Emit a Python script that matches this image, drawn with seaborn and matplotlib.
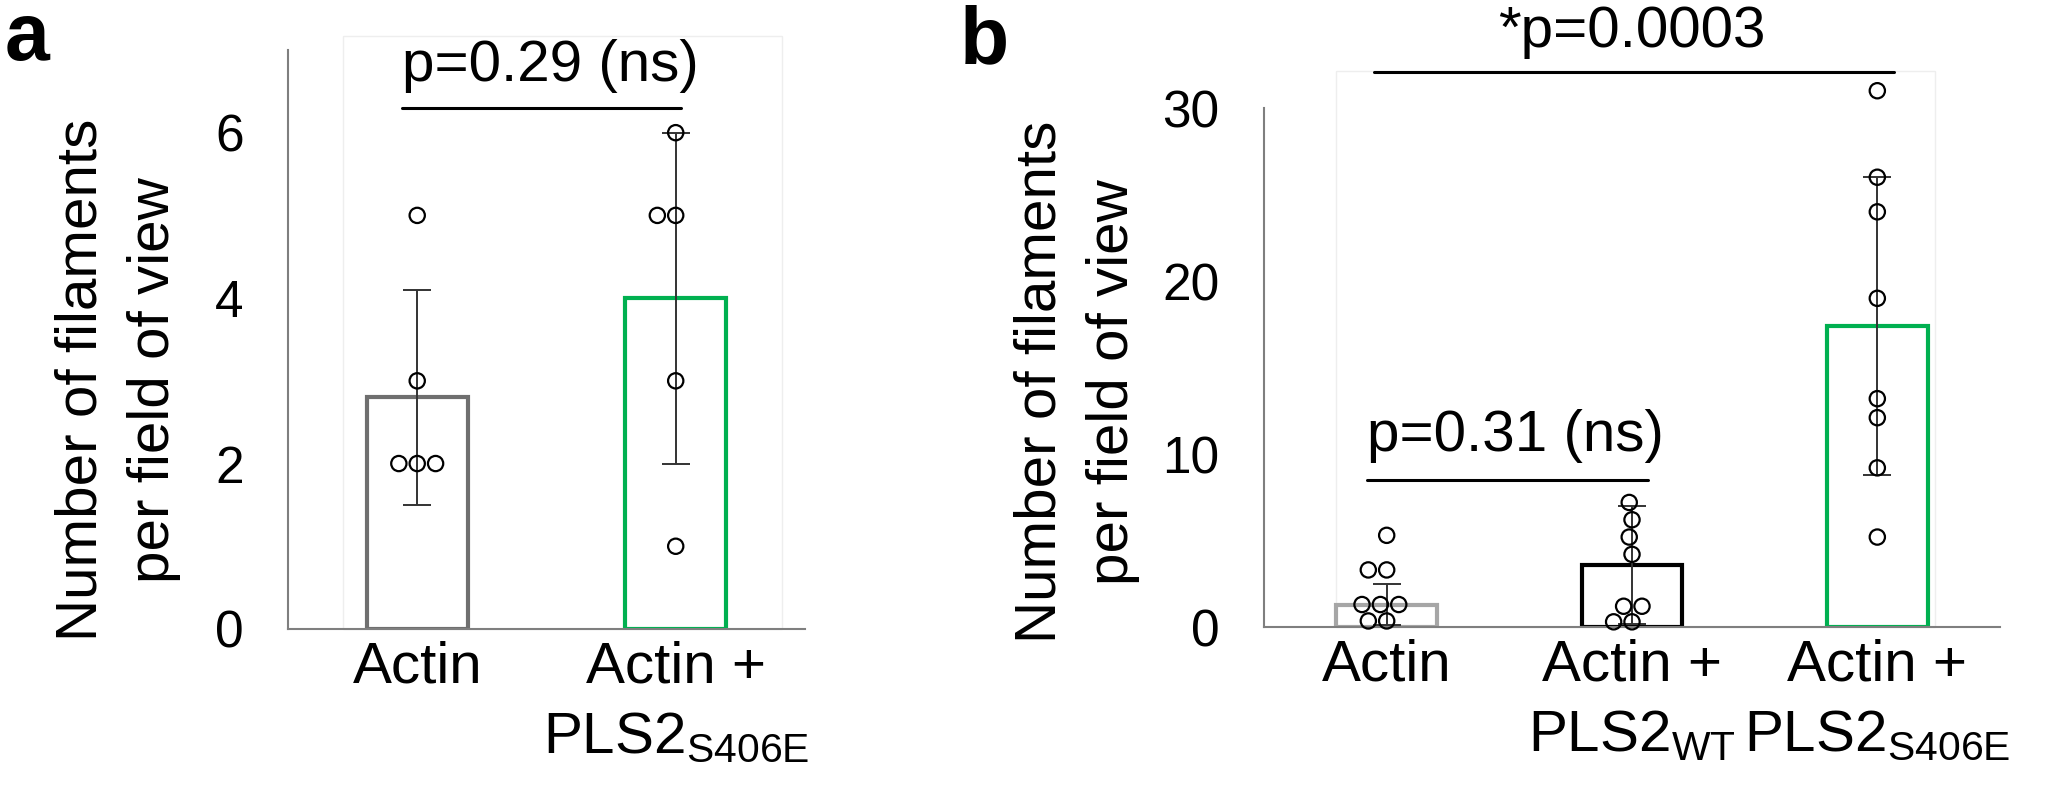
import numpy as np
import pandas as pd
import matplotlib
matplotlib.use('Agg')
import matplotlib.pyplot as plt
from matplotlib.patches import Rectangle
from matplotlib.collections import PathCollection
import seaborn as sns

# panel a
cats_a = ['Actin', 'Actin +\nPLS$\\mathregular{2_{S406E}}$']
means_a = [2.8, 4.0]
sd_a = [1.3, 2.0]
pts_a_actin = [5, 3, 2, 2, 2]
pts_a_s406e = [6, 5, 5, 3, 1]
edge_a = ['#6f6f6f', '#00b050']

# panel b
cats_b = ['Actin', 'Actin +\nPLS$\\mathregular{2_{WT}}$', 'Actin +\nPLS$\\mathregular{2_{S406E}}$']
means_b = [1.3, 3.6, 17.4]
sd_b = [1.2, 3.4, 8.6]
pts_b_actin = [5.3, 3.3, 3.3, 1.3, 1.3, 1.3, 0.35, 0.35]
pts_b_wt = [7.2, 6.2, 5.2, 4.2, 1.2, 1.2, 0.3, 0.3]
pts_b_s406e = [31, 26, 24, 19, 13.2, 12.1, 9.2, 5.2]
edge_b = ['#a6a6a6', '#000000', '#00b050']

sns.set_theme(style='white')
plt.rcParams['font.family'] = ['Liberation Sans', 'DejaVu Sans']
plt.rcParams['mathtext.fontset'] = 'custom'
plt.rcParams['mathtext.rm'] = 'Liberation Sans'
plt.rcParams['text.color'] = 'black'
plt.rcParams['axes.labelcolor'] = 'black'

AXC = '#7f7f7f'


def draw_panel(ax, cats, means, sds, pts, edges, width, yticks, ymax):
    sns.barplot(x=cats, y=means, hue=cats, palette=edges, fill=False,
                linewidth=3, width=width, errorbar=None, legend=False, ax=ax)
    for p in ax.patches:
        p.set_zorder(2)
    ax.errorbar(np.arange(len(cats)), means, yerr=sds, fmt='none', ecolor='#333333',
                elinewidth=1.4, capsize=10, capthick=1.4, zorder=3, clip_on=False)
    df = pd.DataFrame({'group': np.repeat(cats, [len(v) for v in pts]),
                       'value': np.concatenate(pts)})
    sns.swarmplot(data=df, x='group', y='value', order=cats, color='black',
                  edgecolor='black', linewidth=1.6, size=11, ax=ax, zorder=4)
    for c in ax.collections:
        if isinstance(c, PathCollection):
            c.set_facecolor('none')
            c.set_clip_on(False)

    ax.set_xlim(-0.5, len(cats) - 0.5)
    ax.set_ylim(0, ymax)
    ax.set_yticks(yticks)
    ax.set_xlabel('')
    ax.set_ylabel('Number of filaments\nper field of view', fontsize=42, linespacing=1.45)
    ax.set_xticks(np.arange(-0.5, len(cats)), minor=True)
    ax.tick_params(axis='x', which='major', length=0, pad=8, labelsize=42, labelcolor='black')
    ax.tick_params(axis='x', which='minor', length=11, width=1.5, color=AXC, direction='out')
    ax.tick_params(axis='y', length=12, width=1.5, color=AXC, direction='out', pad=20,
                   labelsize=37, labelcolor='black')
    for lab in ax.get_xticklabels():
        lab.set_linespacing(1.4)
    sns.despine(ax=ax)
    for s in ['left', 'bottom']:
        ax.spines[s].set_color(AXC)
        ax.spines[s].set_linewidth(1.5)


fig = plt.figure(figsize=(20.54, 7.88), dpi=100)
ax_a = fig.add_axes([0.1402, 0.2018, 0.2517, 0.7348])
ax_b = fig.add_axes([0.6154, 0.2043, 0.3583, 0.6586])

draw_panel(ax_a, cats_a, means_a, sd_a, [pts_a_actin, pts_a_s406e], edge_a, 0.39, [0, 2, 4, 6], 7)
draw_panel(ax_b, cats_b, means_b, sd_b, [pts_b_actin, pts_b_wt, pts_b_s406e], edge_b, 0.41,
           [0, 10, 20, 30], 30)

ax_a.yaxis.set_label_coords(-0.207, 0.43)
ax_b.yaxis.set_label_coords(-0.168, 0.472)

# faint plot-area frames
ax_a.add_patch(Rectangle((0.106, 0), 0.849, 1.024, transform=ax_a.transAxes, fill=False,
                         edgecolor='#eeeeee', lw=1, clip_on=False, zorder=0))
ax_b.add_patch(Rectangle((0.098, 0), 0.814, 1.071, transform=ax_b.transAxes, fill=False,
                         edgecolor='#eeeeee', lw=1, clip_on=False, zorder=0))

# significance bars
ax_a.plot([-0.06, 1.02], [6.3, 6.3], color='black', lw=2.2, clip_on=False)
ax_a.text(-0.06, 6.62, 'p=0.29 (ns)', fontsize=42, ha='left', va='baseline')
ax_b.plot([-0.08, 1.065], [8.5, 8.5], color='black', lw=2.2, clip_on=False)
ax_b.text(-0.08, 10.2, 'p=0.31 (ns)', fontsize=42, ha='left', va='baseline')
ax_b.plot([-0.05, 2.07], [32.1, 32.1], color='black', lw=2.2, clip_on=False)
ax_b.text(1.0, 33.5, '*p=0.0003', fontsize=42, ha='center', va='baseline')

fig.text(0.0024, 0.924, 'a', fontsize=58, fontweight='bold', va='baseline')
fig.text(0.467, 0.92, 'b', fontsize=58, fontweight='bold', va='baseline')

fig.savefig('out.png', dpi=100)
